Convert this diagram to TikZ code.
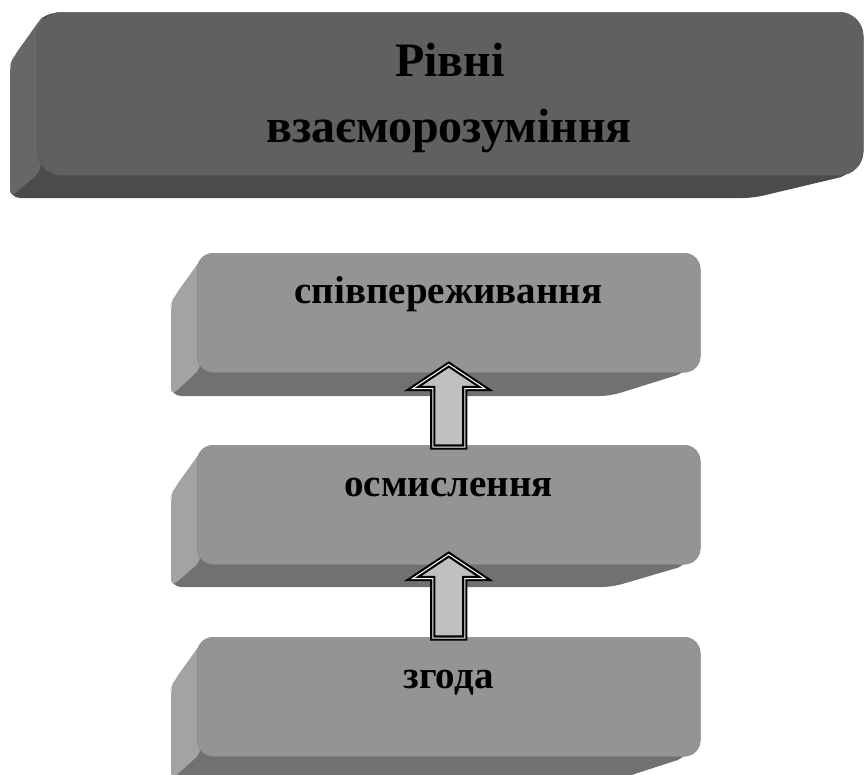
\documentclass[tikz,border=0pt]{standalone}
\usepackage{fontspec}
\setmainfont{Liberation Serif}
\usetikzlibrary{calc}
\definecolor{bigfront}{HTML}{606060}
\definecolor{bigside}{HTML}{676767}
\definecolor{bigbottom}{HTML}{4B4B4B}
\definecolor{smallfront}{HTML}{949494}
\definecolor{smallside}{HTML}{A3A3A3}
\definecolor{smallbottom}{HTML}{717171}
\definecolor{arrowfill}{HTML}{C0C0C0}
\newcommand\keyext[8]{%
  \fill[#8bottom, rounded corners=10pt] (#2+8,#3+1) -- (#1+3,{#3+1.7*(#2-#1)}) -- (#1,{#3+1.7*(#2-#1)+8}) -- (#1,#6) -- (#7,#6) -- (#4-13,#5) -- (#4-13,#3+20) -- cycle;
  \fill[#8side, rounded corners=8pt] (#2+8,#3+1) -- (#1+3,{#3+1.7*(#2-#1)}) -- (#1,{#3+1.7*(#2-#1)+8}) -- (#1,#6) -- (#2+4,#5-4) -- (#2+4,#3+20) -- cycle;
}
\tikzset{
  bigface/.style={fill=bigfront, draw=bigfront!90!black, line width=0.5pt, rounded corners=24pt, inner sep=0pt, anchor=north west, minimum width=826pt, minimum height=163pt},
  smallface/.style={fill=smallfront, draw=smallfront!92!black, line width=0.5pt, rounded corners=16pt, inner sep=0pt, anchor=north west, minimum width=503pt, minimum height=119pt},
  titletext/.style={font=\bfseries\fontsize{48}{56}\selectfont, anchor=base, inner sep=0pt},
  boxtext/.style={font=\bfseries\fontsize{39}{46}\selectfont, anchor=base, inner sep=0pt},
  uparrow/.style={fill=arrowfill, draw=black, line width=2.2pt, double=white, double distance=1pt, line join=miter}
}
\begin{document}
\begin{tikzpicture}[x=1pt,y=-1pt]
\useasboundingbox (0,0) rectangle (867,774);
% title box
\keyext{10}{37}{12}{863}{175}{198}{753}{big}
\node[bigface] (top) at (37,12) {};
\node[titletext] (ta) at (450,76) {Рівні};
\node[titletext] (tb) at (449,142) {взаєморозуміння};
% box 1
\keyext{171}{197}{253}{700}{372}{396}{610}{small}
\node[smallface] (b1) at (197,253) {};
\node[boxtext] (t1) at (448.5,303) {співпереживання};
% box 2
\keyext{171}{197}{445}{700}{565}{587}{612}{small}
\node[smallface] (b2) at (197,445) {};
\node[boxtext] (t2) at (448.5,496) {осмислення};
% box 3
\keyext{171}{197}{637}{700}{757}{780}{616}{small}
\node[smallface] (b3) at (197,637) {};
\node[boxtext] (t3) at (448.5,688) {згода};
% arrows
\draw[uparrow] ($(b2.north)+(-16,2)$) -- ($(b1.south)+(-16,16)$) -- ($(b1.south)+(-36,16)$) -- ($(b1.south)+(0,-8)$) -- ($(b1.south)+(36,16)$) -- ($(b1.south)+(16,16)$) -- ($(b2.north)+(16,2)$) -- cycle;
\draw[uparrow] ($(b3.north)+(-16,1)$) -- ($(b2.south)+(-16,14)$) -- ($(b2.south)+(-36,14)$) -- ($(b2.south)+(0,-10)$) -- ($(b2.south)+(36,14)$) -- ($(b2.south)+(16,14)$) -- ($(b3.north)+(16,1)$) -- cycle;
\end{tikzpicture}
\end{document}
